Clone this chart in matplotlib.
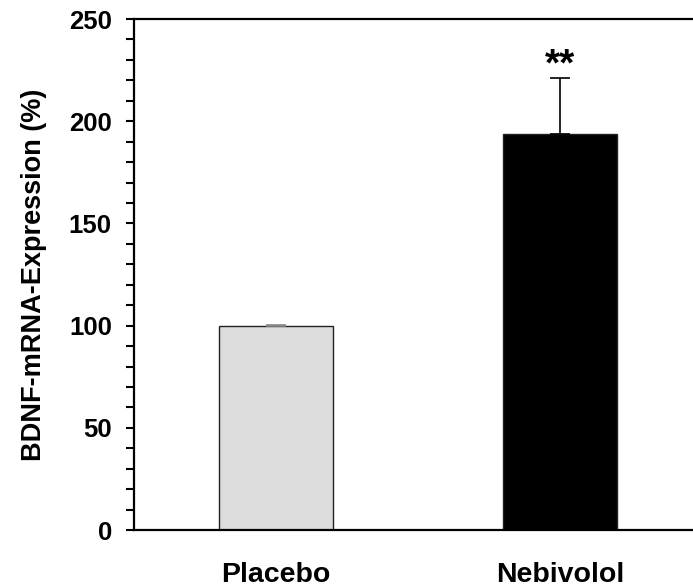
import numpy as np
import matplotlib.pyplot as plt
from matplotlib.ticker import MultipleLocator

# Datos de expresión de BDNF-mRNA (% respecto a placebo)
grupos = ["Placebo", "Nebivolol"]
expresion = [100, 194]
error_std = [0.5, 27]
colores = ["#dcdcdc", "#000000"]
colores_error = ["#888888", "black"]
marca_signif = "**"

plt.rcParams["font.family"] = ["Liberation Sans", "DejaVu Sans"]
plt.rcParams["font.weight"] = "bold"

fig = plt.figure(figsize=(6.93, 5.88), dpi=100)
ax = fig.add_axes([0.1934, 0.0986, 0.8196, 0.869])

x = np.arange(len(grupos))
ax.bar(x, expresion, width=0.4, color=colores, edgecolor="#222222", linewidth=1.0, zorder=2)

# Sólo la barra superior del error
for xi, yi, ei, ci in zip(x, expresion, error_std, colores_error):
    ax.errorbar(xi, yi, yerr=[[0], [ei]], fmt="none", ecolor=ci,
                elinewidth=1.2, capsize=7, capthick=1.2, zorder=3)

ax.text(x[1], expresion[1] + error_std[1] - 2.5, marca_signif, ha="center", va="bottom",
        fontsize=28, fontweight="bold")

ax.set_xlim(-0.5, 1.5)
ax.set_ylim(0, 250)
ax.yaxis.set_major_locator(MultipleLocator(50))
ax.yaxis.set_minor_locator(MultipleLocator(10))

ax.set_xticks(x)
ax.set_xticklabels(grupos, fontsize=20.5, fontweight="bold")
ax.tick_params(axis="x", length=0, pad=23)
ax.tick_params(axis="y", which="both", direction="out", length=6, width=1.5,
               labelsize=18.5, pad=10)
for lbl in ax.get_yticklabels():
    lbl.set_fontweight("bold")

ax.set_ylabel("BDNF-mRNA-Expression (%)", fontsize=19.5, fontweight="bold", labelpad=16)

for lado in ["left", "top", "bottom"]:
    ax.spines[lado].set_linewidth(1.6)
ax.spines["right"].set_visible(False)

fig.savefig("out.png", dpi=100)
